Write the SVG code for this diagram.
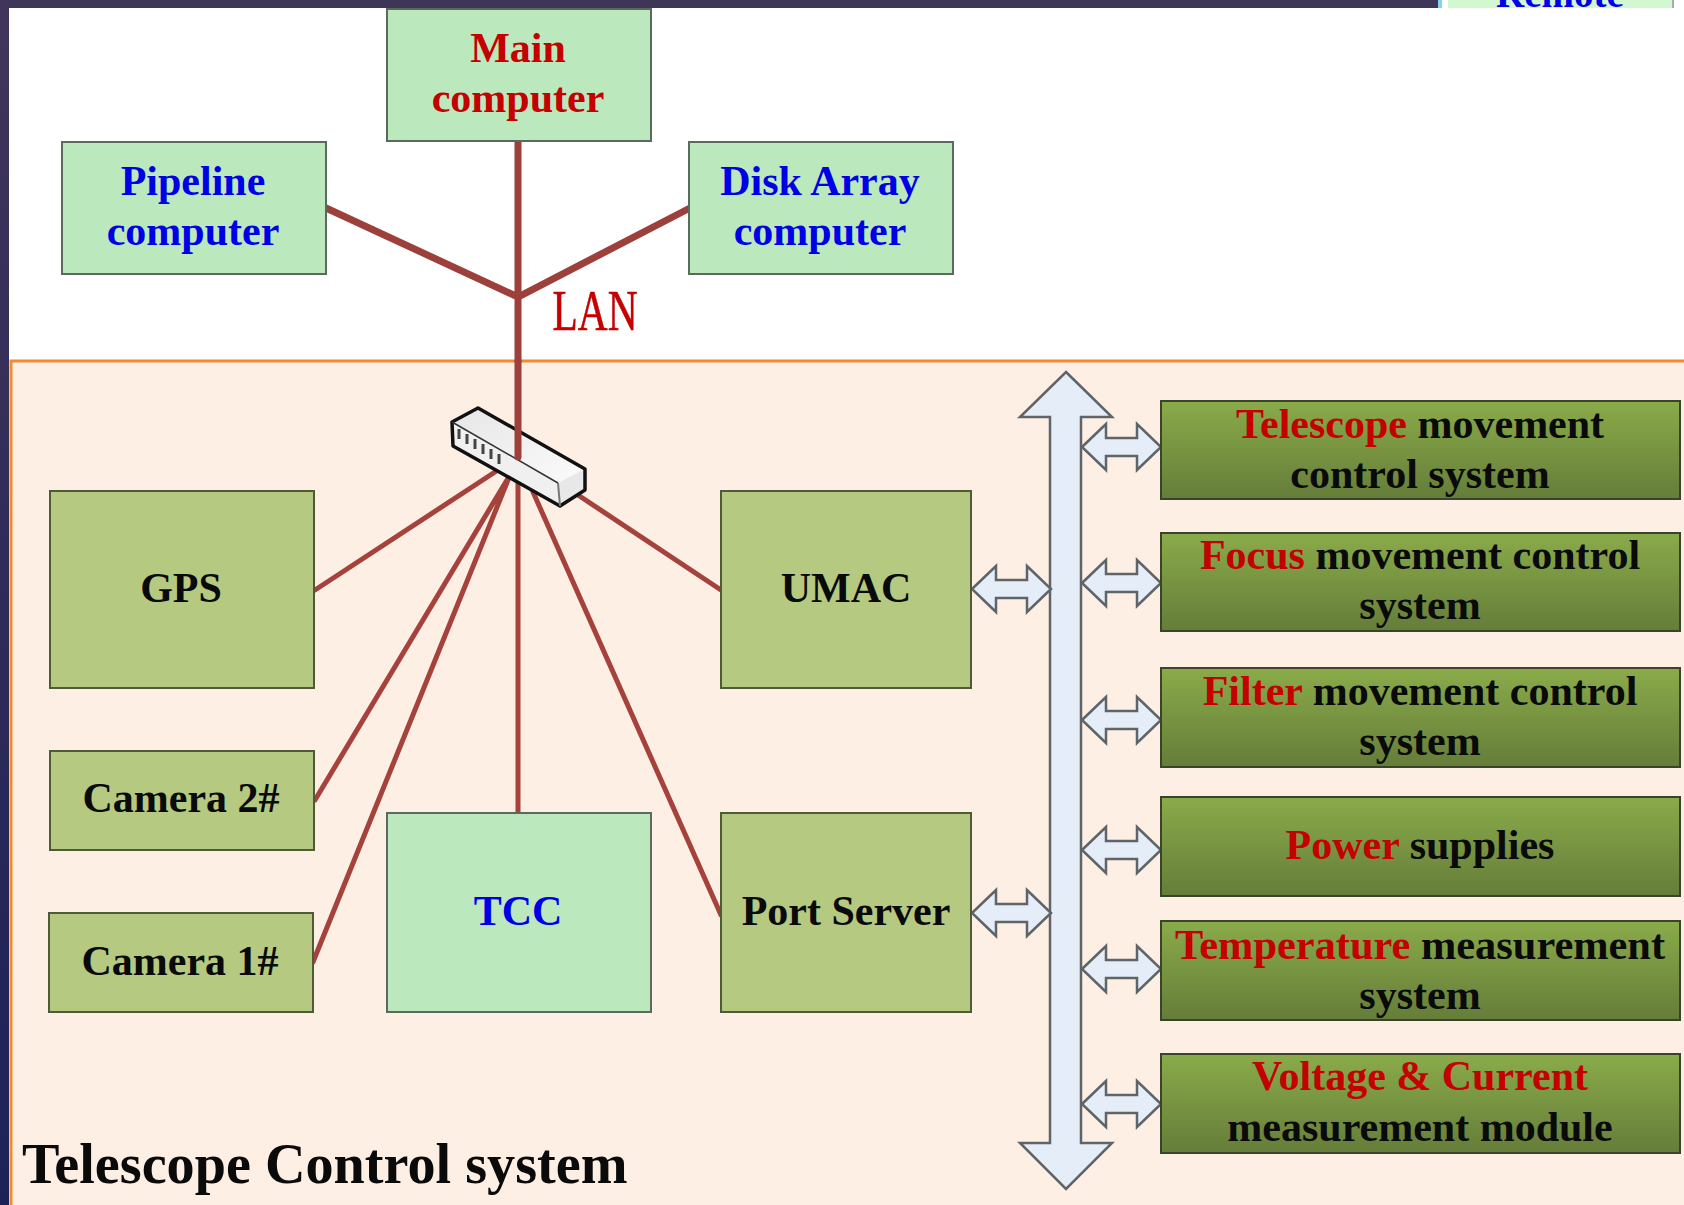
<svg xmlns="http://www.w3.org/2000/svg" xmlns:xlink="http://www.w3.org/1999/xlink" width="1684" height="1205" viewBox="0 0 1684 1205">
<style>
text{font-family:"Liberation Serif","Times New Roman",serif;font-weight:700;font-size:42px;text-anchor:middle;fill:#0a0a0a}
.r{fill:#c40000}.b{fill:#0000e6}
.light{fill:#bbe8bd;stroke:#5a6a5c;stroke-width:2}
.olive{fill:#b5c981;stroke:#4f5a3a;stroke-width:2}
.dark{fill:url(#g);stroke:#39442a;stroke-width:2}
.lan{fill:none;stroke:#9d3f3a;stroke-width:7;stroke-linecap:round}
.wire{fill:none;stroke:#a5423c;stroke-width:5;stroke-linecap:round}
.arr{fill:#e4edf8;stroke:#5f6468;stroke-width:2.5;stroke-linejoin:miter}
</style>
<defs>
<linearGradient id="g" x1="0" y1="0" x2="0" y2="1"><stop offset="0" stop-color="#8aab4a"/><stop offset="1" stop-color="#657d39"/></linearGradient>
<linearGradient id="side" x1="0" y1="0" x2="0" y2="1"><stop offset="0" stop-color="#41355a"/><stop offset="1" stop-color="#1c2258"/></linearGradient>
<linearGradient id="top" x1="0" y1="0" x2="1" y2="1"><stop offset="0" stop-color="#e6e6e6"/><stop offset="1" stop-color="#fbfbfb"/></linearGradient>
<clipPath id="c"><rect x="1448" y="0" width="226" height="8"/></clipPath>
<path id="da" class="arr" d="M0 0L24-23V-9H55V-23L79 0L55 23V9H24V23Z"/>
</defs>
<rect width="1684" height="1205" fill="#fff"/>
<rect width="1684" height="8" fill="#3f3558"/>
<rect width="9" height="1205" fill="url(#side)"/>
<g id="remote">
<rect x="1438" y="0" width="246" height="8" fill="#fff"/>
<rect x="1438" y="0" width="4" height="8" fill="#7fd4f0"/>
<rect x="1448" y="0" width="224" height="8" fill="#d2f8d2"/>
<rect x="1672" y="0" width="2" height="8" fill="#aaa"/>
<text x="1560" y="7" class="b" style="font-size:39px" clip-path="url(#c)">Remote</text>
</g>
<path id="panel" d="M1684 361H11V1205H1684Z" fill="#feefe5"/>
<path d="M1684 361H11V1205" fill="none" stroke="#f28a30" stroke-width="3"/>
<g id="connectors">
<path class="lan" d="M326 208L518 297L690 208M518 141V361"/>
<path class="wire" d="M315 590L498 470M315 800L510 475M313 962L510 475M518 480V813M721 915L533 492M721 590L578 495"/>
<path class="arr" id="bus" d="M1066 372L1112 417H1081V1143H1112L1066 1189L1020 1143H1050V417H1020Z"/>
<use xlink:href="#da" href="#da" x="1082" y="447"/>
<use xlink:href="#da" href="#da" x="1082" y="583"/>
<use xlink:href="#da" href="#da" x="1082" y="720"/>
<use xlink:href="#da" href="#da" x="1082" y="850"/>
<use xlink:href="#da" href="#da" x="1082" y="969"/>
<use xlink:href="#da" href="#da" x="1082" y="1104"/>
<use xlink:href="#da" href="#da" x="972" y="589"/>
<use xlink:href="#da" href="#da" x="972" y="913"/>
</g>
<g id="switch">
<path d="M452 422L478 408L585 469L558 483Z" fill="url(#top)"/>
<path d="M452 422L558 483L560 506L453 446Z" fill="#f0f0f0"/>
<path d="M558 483L585 469V490L560 506Z" fill="#e8e8e8"/>
<path d="M452 422L478 408L585 469V490L560 506L453 446Z" fill="none" stroke="#111" stroke-width="3.5" stroke-linejoin="round"/>
<path d="M452 422L558 483" fill="none" stroke="#333" stroke-width="1.5"/>
<path d="M558 483L560 506" fill="none" stroke="#777" stroke-width="2"/>
<path d="M459 429V439M467 434V444M475 439V449M483 444V454M491 449V459M499 454V464" fill="none" stroke="#444" stroke-width="3"/>
<path class="lan" d="M518 361V457" stroke-linecap="butt"/>
</g>
<g id="main"><rect class="light" x="387" y="9" width="264" height="132"/><text x="518" y="62" class="r">Main</text><text x="518" y="112" class="r">computer</text></g>
<g id="pipeline"><rect class="light" x="62" y="142" width="264" height="132"/><text x="193" y="195" class="b">Pipeline</text><text x="193" y="245" class="b">computer</text></g>
<g id="disk"><rect class="light" x="689" y="142" width="264" height="132"/><text x="820" y="195" class="b">Disk Array</text><text x="820" y="245" class="b">computer</text></g>
<text id="lan" x="595" y="330" class="r" style="font-weight:400;font-size:58px;stroke:#c40000;stroke-width:.6" textLength="85" lengthAdjust="spacingAndGlyphs">LAN</text>
<g id="gps"><rect class="olive" x="50" y="491" width="264" height="197"/><text x="181" y="602">GPS</text></g>
<g id="camera2"><rect class="olive" x="50" y="751" width="264" height="99"/><text x="181" y="812">Camera 2#</text></g>
<g id="camera1"><rect class="olive" x="49" y="913" width="264" height="99"/><text x="180" y="975">Camera 1#</text></g>
<g id="tcc"><rect class="light" x="387" y="813" width="264" height="199"/><text x="518" y="925" class="b">TCC</text></g>
<g id="umac"><rect class="olive" x="721" y="491" width="250" height="197"/><text x="846" y="602">UMAC</text></g>
<g id="port"><rect class="olive" x="721" y="813" width="250" height="199"/><text x="846" y="925">Port Server</text></g>
<g id="telescope"><rect class="dark" x="1161" y="401" width="519" height="98"/><text x="1420" y="438"><tspan class="r">Telescope</tspan> movement</text><text x="1420" y="488">control system</text></g>
<g id="focus"><rect class="dark" x="1161" y="533" width="519" height="98"/><text x="1420" y="569"><tspan class="r">Focus</tspan> movement control</text><text x="1420" y="619">system</text></g>
<g id="filter"><rect class="dark" x="1161" y="668" width="519" height="99"/><text x="1420" y="705"><tspan class="r">Filter</tspan> movement control</text><text x="1420" y="755">system</text></g>
<g id="power"><rect class="dark" x="1161" y="797" width="519" height="99"/><text x="1420" y="859"><tspan class="r">Power</tspan> supplies</text></g>
<g id="temp"><rect class="dark" x="1161" y="921" width="519" height="99"/><text x="1420" y="959" style="font-size:42.4px"><tspan class="r">Temperature</tspan> measurement</text><text x="1420" y="1009">system</text></g>
<g id="voltage"><rect class="dark" x="1161" y="1054" width="519" height="99"/><text x="1420" y="1090" class="r">Voltage &amp; Current</text><text x="1420" y="1141">measurement module</text></g>
<text id="title" x="22" y="1183" style="font-size:56.2px;text-anchor:start">Telescope Control system</text>
</svg>
